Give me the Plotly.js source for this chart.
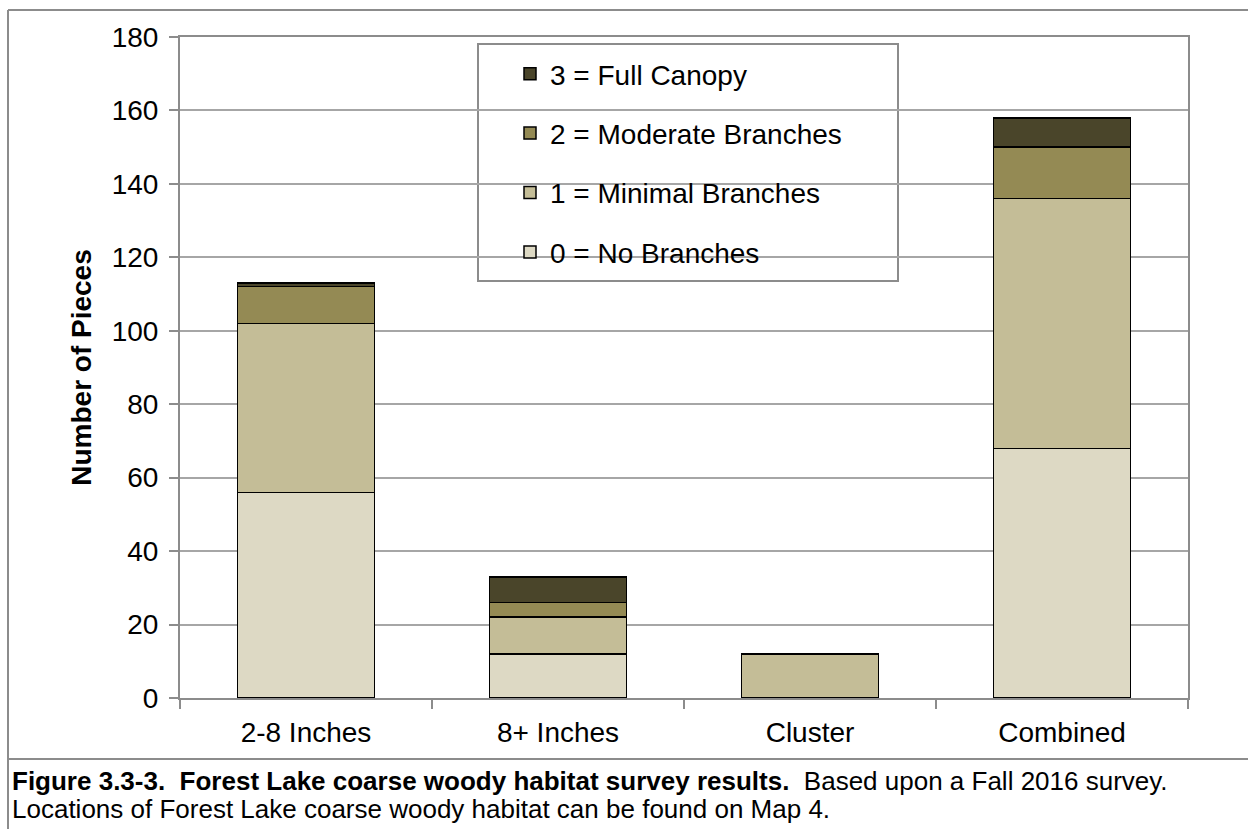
<!DOCTYPE html>
<html>
<head>
<meta charset="utf-8">
<script src="https://cdn.plot.ly/plotly-3.0.1.min.js"></script>
<style>
  html, body { margin: 0; padding: 0; background: #fff; }
  #chart { width: 1248px; height: 829px; }
</style>
</head>
<body>
<div id="chart"></div>
<script>
var categories = ['2-8 Inches', '8+ Inches', 'Cluster', 'Combined'];
var noBranches = [56, 12, 0, 68];
var minimalBranches = [46, 10, 12, 68];
var moderateBranches = [10, 4, 0, 14];
var fullCanopy = [1, 7, 0, 8];
var seriesNames = ['0 = No Branches', '1 = Minimal Branches', '2 = Moderate Branches', '3 = Full Canopy'];
var seriesColors = ['#ddd9c4', '#c4bd97', '#948a54', '#4a452a'];
var yTicks = [0, 20, 40, 60, 80, 100, 120, 140, 160, 180];

var font = "Arial, 'Liberation Sans', sans-serif";
var W = 1248, H = 829;
var L = 180, R = 1188, T = 37, B = 698;

var allSeries = [noBranches, minimalBranches, moderateBranches, fullCanopy];
var traces = allSeries.map(function (vals, i) {
  return {
    x: categories,
    y: vals,
    name: seriesNames[i],
    type: 'bar',
    legendgroup: 'g' + i,
    legendrank: 10 - i,
    marker: { color: seriesColors[i], line: { color: '#000000', width: 1.5 } },
    hoverinfo: 'y+name'
  };
});

// pixel helpers for the page frame (paper coords)
function px(x) { return (x - L) / (R - L); }
function py(y) { return (B - y) / (B - T); }

var grayLine = { color: '#8c8c8c', width: 2 };

var layout = {
  width: W,
  height: H,
  barmode: 'stack',
  bargap: 0.456,
  paper_bgcolor: '#ffffff',
  plot_bgcolor: '#ffffff',
  margin: { l: L, r: W - R, t: T, b: H - B },
  font: { family: font, size: 28, color: '#000000' },
  showlegend: true,
  legend: {
    x: px(510), y: py(49), xanchor: 'left', yanchor: 'top',
    traceorder: 'grouped',
    tracegroupgap: 20,
    bgcolor: 'rgba(0,0,0,0)',
    borderwidth: 0,
    font: { family: font, size: 28, color: '#000000' },
    itemclick: false, itemdoubleclick: false
  },
  xaxis: {
    type: 'category',
    showline: true, mirror: true, linecolor: '#8c8c8c', linewidth: 2,
    ticks: 'outside', tickson: 'boundaries', ticklen: 9, tickcolor: '#8c8c8c', tickwidth: 2,
    showgrid: false,
    ticklabelstandoff: 8,
    tickfont: { family: font, size: 28, color: '#000000' },
    fixedrange: true
  },
  yaxis: {
    range: [0, 180],
    tickvals: yTicks,
    showline: true, mirror: true, linecolor: '#8c8c8c', linewidth: 2,
    ticks: 'outside', ticklen: 9, tickcolor: '#8c8c8c', tickwidth: 2,
    showgrid: true, gridcolor: '#a6a6a6', gridwidth: 2,
    zeroline: false,
    tickfont: { family: font, size: 28, color: '#000000' },
    ticklabelstandoff: 5,
    title: { text: '<b>Number of Pieces</b>', font: { family: font, size: 28, color: '#000000' }, standoff: 12 },
    fixedrange: true
  },
  shapes: [
    // legend box
    { type: 'rect', xref: 'paper', yref: 'paper', x0: px(478), x1: px(898), y0: py(44), y1: py(281),
      line: { color: '#8c8c8c', width: 2 }, fillcolor: '#ffffff', layer: 'below' },
    // outer frame
    { type: 'line', xref: 'paper', yref: 'paper', x0: px(8), x1: px(1260), y0: py(10), y1: py(10), line: grayLine },
    { type: 'line', xref: 'paper', yref: 'paper', x0: px(8), x1: px(8), y0: py(10), y1: py(840), line: grayLine },
    { type: 'line', xref: 'paper', yref: 'paper', x0: px(8), x1: px(1260), y0: py(759), y1: py(759), line: grayLine }
  ],
  annotations: [
    { xref: 'paper', yref: 'paper', x: px(10), y: py(781), xanchor: 'left', yanchor: 'middle', align: 'left',
      showarrow: false,
      font: { family: font, size: 26, color: '#000000' },
      text: '<b>Figure 3.3-3.  Forest Lake coarse woody habitat survey results.</b>  Based upon a Fall 2016 survey.'
    },
    { xref: 'paper', yref: 'paper', x: px(10), y: py(809), xanchor: 'left', yanchor: 'middle', align: 'left',
      showarrow: false,
      font: { family: font, size: 26, color: '#000000' },
      text: 'Locations of Forest Lake coarse woody habitat can be found on Map 4.'
    }
  ]
};

Plotly.newPlot('chart', traces, layout, { displayModeBar: false });
</script>
</body>
</html>
